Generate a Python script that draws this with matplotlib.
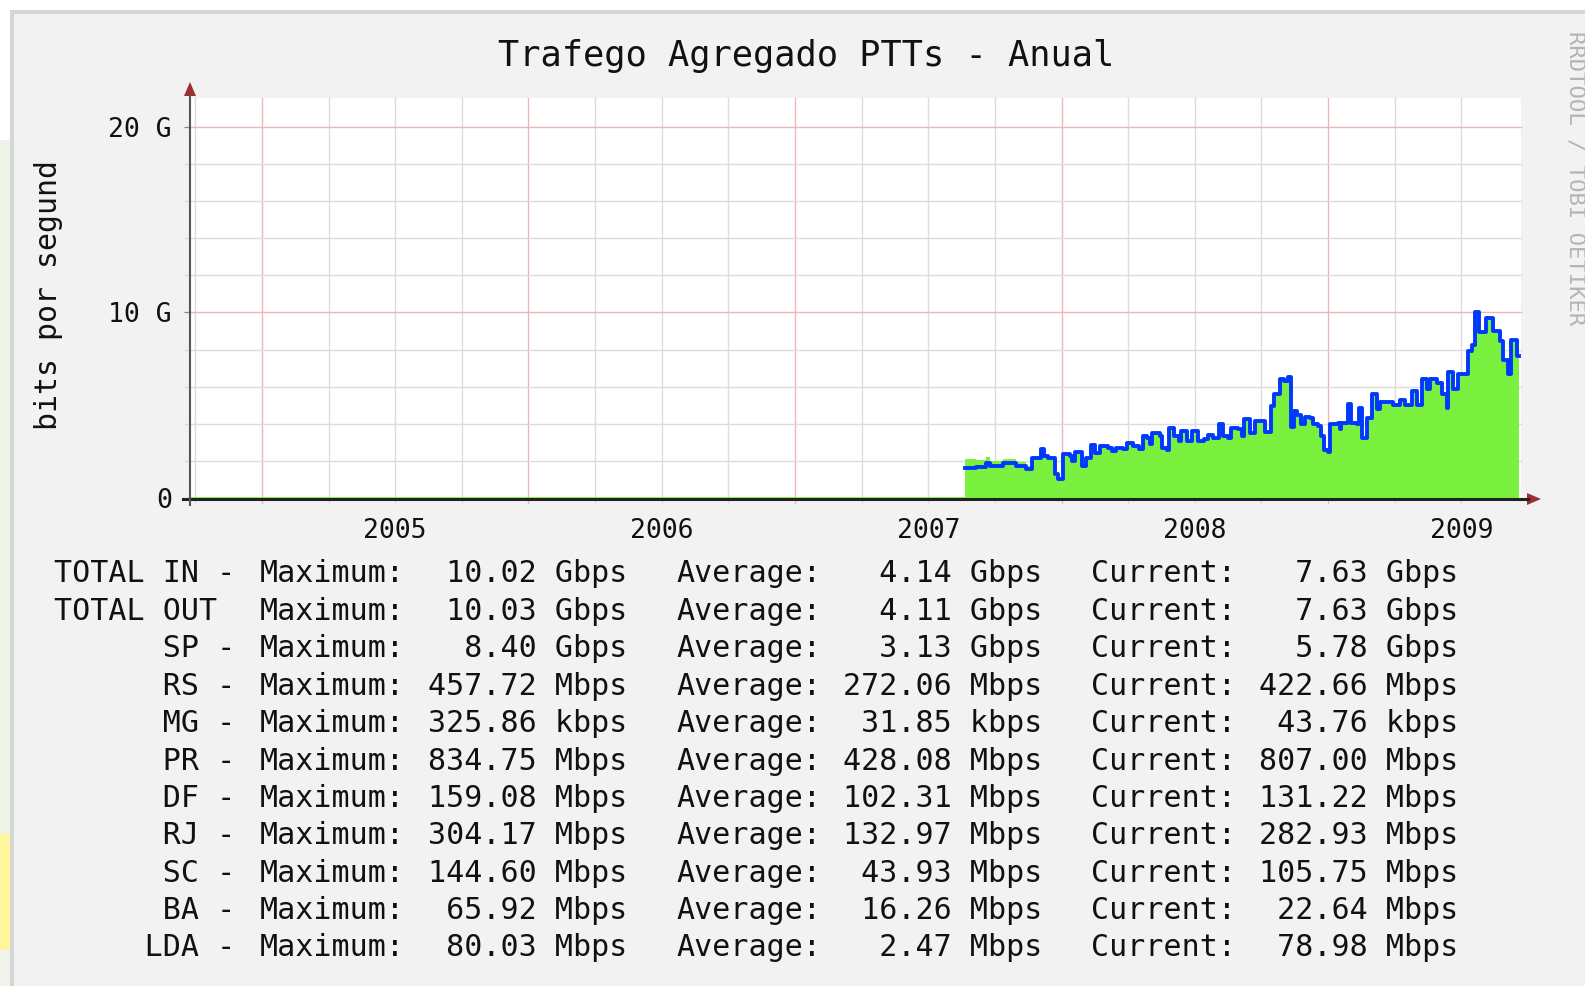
import matplotlib.pyplot as plt
from matplotlib.patches import Rectangle, Polygon

# Data (time in decimal years, traffic in Gbit/s)
t = [2007.637, 2007.680, 2007.716, 2007.730, 2007.780, 2007.831, 2007.867, 2007.888,
     2007.924, 2007.934, 2007.948, 2007.974, 2007.986, 2008.006, 2008.032, 2008.039,
     2008.049, 2008.077, 2008.092, 2008.110, 2008.125, 2008.146, 2008.175, 2008.189,
     2008.204, 2008.232, 2008.247, 2008.268, 2008.290, 2008.304, 2008.321, 2008.333,
     2008.341, 2008.369, 2008.376, 2008.397, 2008.405, 2008.422, 2008.440, 2008.448,
     2008.469, 2008.491, 2008.512, 2008.534, 2008.548, 2008.570, 2008.591, 2008.605,
     2008.623, 2008.637, 2008.663, 2008.677, 2008.684, 2008.709, 2008.727, 2008.752,
     2008.763, 2008.785, 2008.799, 2008.821, 2008.835, 2008.849, 2008.861, 2008.871,
     2008.885, 2008.900, 2008.914, 2008.931, 2008.943, 2008.964, 2008.974, 2008.986,
     2009.000, 2009.007, 2009.036, 2009.043, 2009.050, 2009.076, 2009.086, 2009.110,
     2009.118, 2009.129, 2009.148, 2009.165, 2009.184, 2009.195, 2009.244, 2009.270,
     2009.289, 2009.315, 2009.334, 2009.353, 2009.371, 2009.383, 2009.409, 2009.428,
     2009.447, 2009.450, 2009.469, 2009.488, 2009.525, 2009.540, 2009.552, 2009.567,
     2009.593, 2009.619, 2009.645, 2009.657, 2009.675, 2009.687, 2009.709, 2009.717]
total_out = [1.62, 1.65, 1.90, 1.75, 1.90, 1.72, 1.57, 2.17,
             2.65, 2.26, 2.17, 1.30, 1.00, 2.35, 2.26, 2.00,
             2.50, 1.70, 2.17, 2.83, 2.45, 2.80, 2.72, 2.53,
             2.72, 2.63, 2.94, 2.80, 2.65, 3.34, 3.25, 2.90,
             3.48, 3.34, 2.71, 2.58, 3.79, 3.34, 3.07, 3.60,
             3.07, 3.60, 3.07, 3.16, 3.38, 3.25, 3.97, 3.34,
             3.25, 3.79, 3.70, 3.34, 4.24, 3.52, 4.15, 4.15,
             3.56, 4.96, 5.60, 6.40, 6.30, 6.50, 3.80, 4.70,
             4.50, 3.97, 4.39, 4.33, 3.97, 3.88, 3.34, 2.60,
             2.50, 3.97, 4.06, 3.70, 4.06, 5.05, 4.06, 4.00,
             4.87, 3.25, 4.30, 5.60, 4.78, 5.20, 5.00, 5.30,
             5.00, 5.75, 5.00, 6.40, 5.85, 6.40, 6.20, 5.60,
             4.85, 6.80, 5.90, 6.70, 7.90, 8.25, 10.03, 8.95,
             9.70, 9.00, 8.45, 7.45, 6.70, 8.50, 7.63, 7.63]
total_in = [2.10, 2.05, 2.20, 2.00, 2.10, 1.95, 1.75, 2.17,
            2.65, 2.26, 2.17, 1.30, 1.00, 2.35, 2.26, 2.00,
            2.50, 1.70, 2.17, 2.83, 2.45, 2.80, 2.72, 2.53,
            2.72, 2.63, 2.94, 2.80, 2.65, 3.34, 3.25, 2.90,
            3.48, 3.34, 2.71, 2.58, 3.79, 3.34, 3.07, 3.60,
            3.07, 3.60, 3.07, 3.16, 3.38, 3.25, 3.97, 3.34,
            3.25, 3.79, 3.70, 3.34, 4.24, 3.52, 4.15, 4.15,
            3.56, 4.96, 5.60, 6.40, 6.30, 6.50, 3.80, 4.70,
            4.50, 3.97, 4.39, 4.33, 3.97, 3.88, 3.34, 2.60,
            2.50, 3.97, 4.06, 3.70, 4.06, 5.05, 4.06, 4.00,
            4.87, 3.25, 4.30, 5.60, 4.78, 5.20, 5.00, 5.30,
            5.00, 5.75, 5.00, 6.40, 5.85, 6.40, 6.20, 5.60,
            4.85, 6.80, 5.90, 6.70, 7.90, 8.25, 10.02, 8.95,
            9.70, 9.00, 8.45, 7.45, 6.70, 8.50, 7.63, 7.63]

years = [2005, 2006, 2007, 2008, 2009]
yticks = [0, 10, 20]
ytick_labels = ['0', '10 G', '20 G']

# legend table
names = ['TOTAL IN -', 'TOTAL OUT ', '      SP -', '      RS -', '      MG -', '      PR -',
         '      DF -', '      RJ -', '      SC -', '      BA -', '     LDA -']
max_vals = [10.02, 10.03, 8.40, 457.72, 325.86, 834.75, 159.08, 304.17, 144.60, 65.92, 80.03]
max_units = ['Gbps', 'Gbps', 'Gbps', 'Mbps', 'kbps', 'Mbps', 'Mbps', 'Mbps', 'Mbps', 'Mbps', 'Mbps']
avg_vals = [4.14, 4.11, 3.13, 272.06, 31.85, 428.08, 102.31, 132.97, 43.93, 16.26, 2.47]
avg_units = ['Gbps', 'Gbps', 'Gbps', 'Mbps', 'kbps', 'Mbps', 'Mbps', 'Mbps', 'Mbps', 'Mbps', 'Mbps']
cur_vals = [7.63, 7.63, 5.78, 422.66, 43.76, 807.00, 131.22, 282.93, 105.75, 22.64, 78.98]
cur_units = ['Gbps', 'Gbps', 'Gbps', 'Mbps', 'kbps', 'Mbps', 'Mbps', 'Mbps', 'Mbps', 'Mbps', 'Mbps']

W, H = 1585, 986
mono = 'DejaVu Sans Mono'


def fx(px):
    return px / W


def fy(py):
    return 1 - py / H


fig = plt.figure(figsize=(W / 100, H / 100), dpi=100)
fig.patch.set_facecolor('#f2f2f2')

# page background around the rrdtool image
def frect(x0, y0, x1, y1, color):
    fig.add_artist(Rectangle((fx(x0), fy(y1)), fx(x1 - x0), (y1 - y0) / H,
                             transform=fig.transFigure, color=color, lw=0, zorder=0))

frect(0, 0, W, 10, 'white')
frect(0, 0, 10, H, 'white')
frect(0, 140, 10, 834, '#eef3e8')
frect(0, 834, 10, 950, '#fff59a')
frect(0, 950, 10, H, '#f0f4ec')
frect(10, 10, W, 14, '#d6d6d6')
frect(10, 10, 14, H, '#d6d6d6')

# plot area
x0, x1 = 2004.730, 2009.724
ax = fig.add_axes([fx(190), fy(498), fx(1331), 400 / H])
ax.set_xlim(x0, x1)
ax.set_ylim(0, 21.56)
ax.set_facecolor('white')
for s in ax.spines.values():
    s.set_visible(False)

# grid
for q in range(int(x0 * 4) + 1, int(x1 * 4) + 1):
    xv = q / 4
    c = '#f0b4b4' if q % 4 == 0 else '#dcdcdc'
    ax.plot([xv, xv], [-0.25, 21.56], color=c, lw=1, clip_on=False, zorder=1)
for yv in range(2, 22, 2):
    c = '#f0b4b4' if yv % 10 == 0 else '#dcdcdc'
    ax.plot([x0 - 0.02, x1], [yv, yv], color=c, lw=1, clip_on=False, zorder=1)

# traffic
ax.fill_between(t, total_in, step='post', color='#7af03f', lw=0, zorder=2)
ax.plot([x0, t[0]], [0, 0], color='#7af03f', lw=2, zorder=2)
ax.step(t, total_out, where='post', color='#0038ff', lw=2.8, zorder=3)

ax.set_xticks([])
ax.set_yticks(yticks)
ax.set_yticklabels(ytick_labels, fontfamily=mono, fontsize=19, color='#111111')
ax.tick_params(axis='y', length=4, pad=9, color='#888888')

for yr in years:
    ax.text(yr + 0.5, -0.083, str(yr), transform=ax.get_xaxis_transform(),
            ha='center', va='center', fontfamily=mono, fontsize=19, color='#111111')

# axes lines + arrows
fig.add_artist(plt.Line2D([fx(183), fx(1528)], [fy(499), fy(499)], color='#222222', lw=2.2))
fig.add_artist(plt.Line2D([fx(190), fx(190)], [fy(505), fy(96)], color='#555555', lw=1.5))
fig.add_artist(Polygon([[fx(1527), fy(493)], [fx(1541), fy(499)], [fx(1527), fy(505)]],
                       closed=True, transform=fig.transFigure, color='#9a3030', lw=0))
fig.add_artist(Polygon([[fx(184), fy(96)], [fx(190), fy(82)], [fx(196), fy(96)]],
                       closed=True, transform=fig.transFigure, color='#9a3030', lw=0))

# texts
fig.text(fx(806), fy(56), 'Trafego Agregado PTTs - Anual', ha='center', va='center',
         fontfamily=mono, fontsize=25.5, color='#111111')
fig.text(fx(49), fy(295), 'bits por segund', rotation=90, ha='center', va='center',
         fontfamily=mono, fontsize=21.5, color='#111111')
fig.text(fx(1575), fy(178), 'RRDTOOL / TOBI OETIKER', rotation=270, ha='center', va='center',
         fontfamily=mono, fontsize=16, color='#b4b4b4')

for i, name in enumerate(names):
    yy = fy(574 + i * 37.4)
    kw = dict(va='center', ha='left', fontfamily=mono, fontsize=21.6, color='#111111')
    fig.text(fx(53.6), yy, name, **kw)
    fig.text(fx(260), yy, 'Maximum:', **kw)
    fig.text(fx(427.6), yy, f'{max_vals[i]:6.2f} {max_units[i]}', **kw)
    fig.text(fx(676.5), yy, 'Average:', **kw)
    fig.text(fx(843), yy, f'{avg_vals[i]:6.2f} {avg_units[i]}', **kw)
    fig.text(fx(1091), yy, 'Current:', **kw)
    fig.text(fx(1259), yy, f'{cur_vals[i]:6.2f} {cur_units[i]}', **kw)

plt.savefig('out.png', dpi=100)
